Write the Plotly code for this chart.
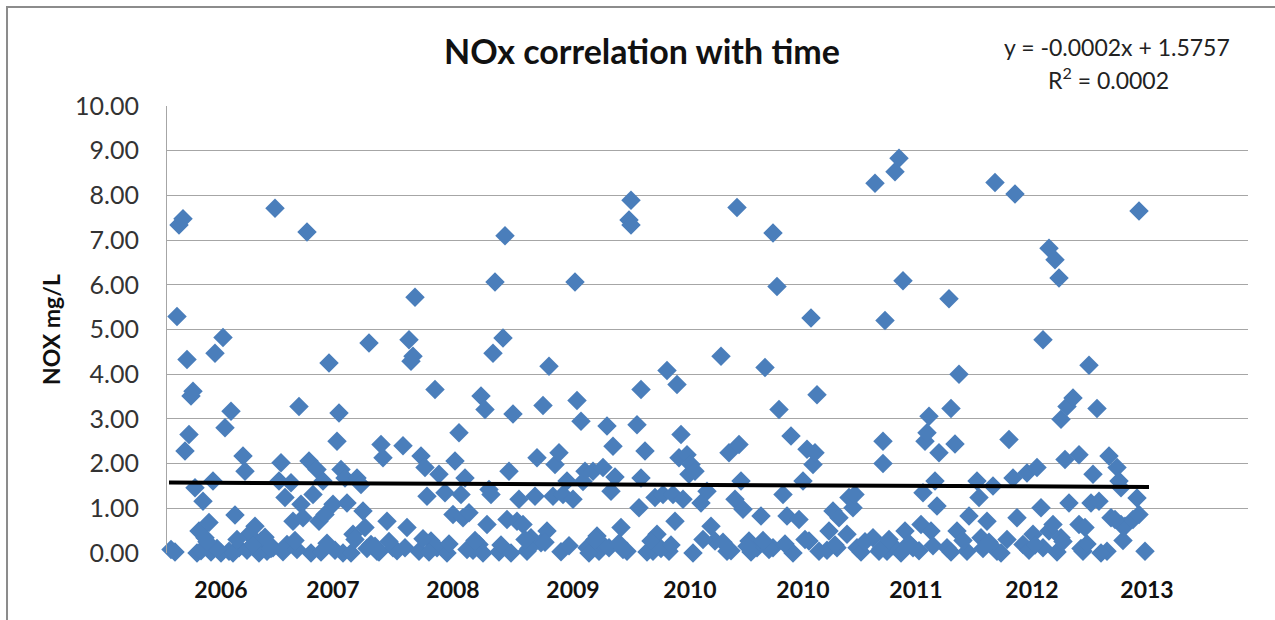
import plotly.graph_objects as go

sample_no = [
    2, 5, 6, 8, 9, 10, 11, 12, 13, 14, 15, 16, 18, 19, 21, 22, 23, 24, 27, 28,
    29, 31, 32, 34, 36, 38, 39, 41, 44, 47, 50, 53, 54, 56, 57, 59, 60, 62, 63, 66,
    67, 68, 70, 71, 72, 73, 75, 76, 78, 79, 81, 83, 85, 86, 87, 88, 89, 90, 93, 95,
    97, 98, 99, 101, 102, 105, 107, 108, 110, 113,
    118, 120, 121, 122, 123, 124, 119, 126, 127, 129, 130, 132, 134, 135, 136, 139, 140, 143, 144, 146,
    147, 148, 149, 150, 151, 156, 157, 158, 159, 160, 161, 162, 163, 164, 166, 168, 169, 170, 171, 173,
    175, 176, 178, 180, 182, 184, 185, 187, 188, 190, 191, 193, 194, 196, 198, 200, 203, 204, 205, 207,
    208, 209, 210, 213, 215, 216, 217, 218, 220, 221, 222, 223, 224, 227, 230, 231, 232, 232, 235, 236,
    237, 237, 239,
    243, 244, 245, 248, 250, 251, 253, 254, 255, 256, 257, 258, 260, 261, 262, 264, 267, 270, 272, 274,
    277, 280, 281, 284, 285, 286, 287, 288, 291, 295, 297, 299, 303, 303, 305, 306, 308, 310, 312, 316,
    318, 320, 321, 322, 323, 324, 325, 326, 331, 333, 335, 336, 340, 341, 343, 344, 345, 353, 354, 356,
    358, 358, 359, 360, 363, 364, 366, 368, 369, 373, 377, 378, 379, 380, 381, 382, 384, 385, 386, 390,
    391, 392, 394, 395, 396, 400, 401, 405, 406, 407, 410, 413, 414, 415, 421, 423, 424, 425, 428, 430,
    433, 435, 437, 438, 438, 441, 441, 443, 444, 446, 447, 447, 449, 450, 451, 453, 456, 456, 458, 459,
    461, 462, 463, 465, 466, 470, 471, 472, 475, 476, 477, 477, 479, 483, 485, 486, 486, 489, 474,
    4, 17, 25, 33, 40, 46, 52, 58, 65, 77, 84, 92, 100, 106, 115, 131, 153, 172, 181, 197,
    211, 228, 240, 247, 263, 282, 292, 301, 313, 330, 347, 357, 367, 376, 392, 408, 417, 431, 445, 457,
    467,
    20, 35, 43, 49, 64, 80, 94, 104, 111, 128, 141, 154, 167, 179, 189, 201, 214, 226, 242, 252,
    268, 278, 290, 298, 309, 319, 334, 349, 361, 371, 383, 398, 411, 420, 434, 448, 460, 478,
]
nox_mg_l = [
    0.08, 5.29, 7.34, 7.48, 2.28, 4.33, 2.65, 3.51, 3.62, 1.46, 0.00, 0.49, 1.16, 0.34, 0.68, 0.02, 1.61, 4.47, 0.00, 4.82,
    2.80, 0.04, 3.17, 0.85, 0.12, 2.17, 1.83, 0.42, 0.60, 0.27, 0.04, 0.12, 7.71, 1.61, 2.02, 1.24, 0.19, 1.57, 0.71, 3.28,
    1.09, 0.79, 7.18, 2.06, 0.00, 1.31, 1.87, 0.71, 1.61, 0.86, 4.25, 1.09, 2.50, 3.13, 1.87, 0.00, 1.68, 1.12, 0.42, 1.68,
    1.53, 0.94, 0.57, 4.70, 0.19, 0.04, 2.43, 2.13, 0.71, 0.12,
    2.40, 0.57, 4.77, 4.29, 4.40, 5.72, 0.12, 0.04, 2.17, 1.91, 1.27, 0.27, 3.66, 0.12, 1.76, 1.35, 0.00, 0.86, 2.06, 2.69,
    1.31, 0.79, 1.68, 0.08, 0.90, 0.19, 3.51, 0.00, 3.21, 0.64, 1.42, 1.31, 4.47, 6.06, 0.02, 4.81, 7.10, 0.75, 1.83, 3.11,
    0.71, 1.20, 0.64, 0.04, 0.34, 1.27, 2.13, 0.23, 3.30, 0.49, 4.18, 1.27, 1.98, 2.24, 1.31, 1.61, 1.20, 6.06, 3.41, 2.95,
    1.60, 1.83, 0.12, 1.83, 0.38, 0.04, 0.23, 1.91, 2.84, 0.12, 1.38, 2.39, 1.70, 0.57, 0.04, 7.45, 7.89, 7.34, 2.87, 1.01,
    3.66, 1.68, 2.28,
    0.04, 1.24, 0.42, 1.31, 4.08, 0.04, 1.31, 0.71, 3.77, 2.13, 2.65, 1.20, 2.20, 1.76, 1.98, 1.83, 1.12, 1.38, 0.60, 0.27,
    4.40, 0.04, 2.24, 1.20, 7.73, 2.43, 1.61, 0.98, 0.27, 0.12, 0.83, 4.15, 7.16, 0.12, 5.96, 3.21, 1.31, 0.83, 2.62, 0.75,
    1.61, 2.32, 0.27, 5.26, 1.98, 2.24, 3.54, 0.04, 0.49, 0.94, 0.12, 0.79, 0.42, 1.24, 1.01, 1.31, 0.12, 0.34, 8.27, 0.04,
    2.50, 2.00, 5.20, 0.04, 0.16, 8.53, 8.83, 6.09, 0.49, 0.12, 0.64, 1.35, 2.50, 2.69, 3.06, 0.49, 1.61, 1.05, 2.24, 0.12,
    5.69, 3.23, 2.44, 0.49, 4.00, 0.04, 0.83, 1.61, 1.24, 0.34, 0.71, 1.50, 8.29, 0.04, 2.54, 1.68, 8.03, 0.79, 0.19, 1.79,
    0.42, 1.91, 1.01, 0.12, 4.77, 6.82, 0.49, 0.64, 6.56, 6.15, 0.34, 2.99, 2.09, 3.28, 1.12, 3.47, 2.20, 0.64, 0.04, 0.57,
    4.20, 1.12, 1.76, 3.23, 1.16, 0.04, 2.17, 0.79, 1.91, 1.61, 0.64, 1.46, 0.60, 0.75, 1.23, 0.86, 7.65, 0.04, 0.75,
    0.02, 0.05, 0.10, 0.00, 0.06, 0.00, 0.10, 0.03, 0.08, 0.02, 0.06, 0.00, 0.10, 0.02, 0.05, 0.02, 0.06, 0.00, 0.10, 0.03,
    0.00, 0.08, 0.02, 0.10, 0.00, 0.05, 0.02, 0.08, 0.00, 0.06, 0.02, 0.10, 0.00, 0.05, 0.02, 0.10, 0.00, 0.06, 0.02, 0.10,
    0.00,
    0.25, 0.30, 0.18, 0.35, 0.28, 0.22, 0.30, 0.15, 0.26, 0.32, 0.20, 0.28, 0.18, 0.30, 0.24, 0.16, 0.30, 0.22, 0.27, 0.18,
    0.30, 0.24, 0.15, 0.28, 0.20, 0.30, 0.18, 0.25, 0.30, 0.22, 0.16, 0.28, 0.24, 0.30, 0.18, 0.26, 0.20, 0.28,
]

# linear trendline as printed on the chart
trend_slope = -0.0002
trend_intercept = 1.5757
n_samples = 491

# x axis labels (Excel showed every ~57th sample date as a year)
year_tick_pos = [27, 83, 143, 203, 261.5, 318, 374.5, 432.5, 490]
year_tick_text = ['2006', '2007', '2008', '2009', '2010', '2010', '2011', '2012', '2013']

y_ticks = [0, 1, 2, 3, 4, 5, 6, 7, 8, 9, 10]

fig = go.Figure()

fig.add_trace(go.Scatter(
    x=sample_no,
    y=nox_mg_l,
    mode='markers',
    marker=dict(symbol='diamond', size=15, color='#4A7EBB', line=dict(width=0)),
    cliponaxis=False,
    showlegend=False,
))

trend_x = [1, n_samples]
trend_y = [trend_intercept + trend_slope * v for v in trend_x]
fig.add_trace(go.Scatter(
    x=trend_x,
    y=trend_y,
    mode='lines',
    line=dict(color='black', width=4),
    showlegend=False,
))

font_name = 'Lato, Open Sans, sans-serif'

fig.update_layout(
    width=1275,
    height=620,
    paper_bgcolor='white',
    plot_bgcolor='white',
    margin=dict(l=167, r=27, t=106, b=67),
    font=dict(family=font_name, color='#222222'),
    title=dict(
        text='<b>NOx correlation with time</b>',
        x=642 / 1275, xanchor='center',
        y=1 - 52 / 620, yanchor='middle',
        font=dict(size=34, color='#111111'),
    ),
    shapes=[dict(
        type='rect', xref='paper', yref='paper',
        x0=-0.148, x1=1.05, y0=-0.25, y1=1.2215,
        line=dict(color='#8c8c8c', width=2),
    )],
    annotations=[
        dict(text='y = -0.0002x + 1.5757', xref='paper', yref='paper',
             x=(1117 - 167) / 1081, y=(553 - 47) / 447, showarrow=False,
             xanchor='center', yanchor='middle', font=dict(size=23, color='#222222')),
        dict(text='R<sup>2</sup> = 0.0002', xref='paper', yref='paper',
             x=(1108 - 167) / 1081, y=(553 - 79) / 447, showarrow=False,
             xanchor='center', yanchor='middle', font=dict(size=23, color='#222222')),
    ],
)

fig.update_xaxes(
    range=[0, 540.5],
    automargin=False,
    tickmode='array',
    tickvals=year_tick_pos,
    ticktext=year_tick_text,
    tickfont=dict(size=23, color='#111111', family=font_name, weight='bold'),
    ticklabelstandoff=21,
    showgrid=False,
    zeroline=False,
    showline=False,
    ticks='',
)

fig.update_yaxes(
    range=[0, 10],
    automargin=False,
    tickmode='array',
    tickvals=y_ticks,
    tickformat='.2f',
    tickfont=dict(size=25, color='#333333'),
    ticklabelstandoff=22,
    showgrid=True,
    gridcolor='#a6a6a6',
    gridwidth=1,
    zeroline=False,
    showline=True,
    linecolor='#a6a6a6',
    linewidth=1,
    ticks='',
    title=dict(text='<b>NOX mg/L</b>', font=dict(size=23, color='#111111'), standoff=8),
)

# the page body has an 8px default margin; drop it so the figure sits at 0,0
fig.write_html('out.html', config={'displayModeBar': False},
               post_script="document.body.style.margin='0';")
